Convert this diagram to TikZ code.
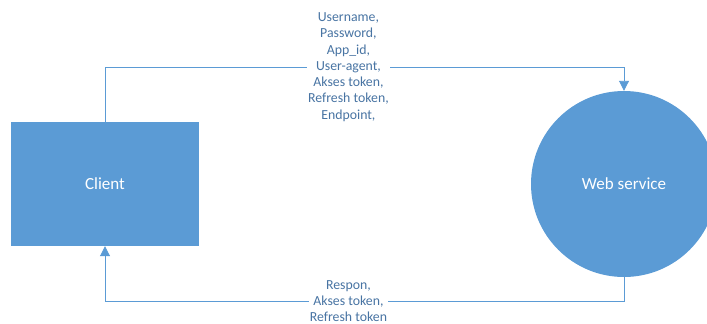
\documentclass[tikz,border=0pt]{standalone}
\usepackage{fontspec}
\setmainfont{Carlito}
\usetikzlibrary{arrows.meta,positioning}
\definecolor{boxblue}{RGB}{91,155,213}
\definecolor{msgtext}{RGB}{72,116,163}

\begin{document}
\begin{tikzpicture}[x=1pt,y=-1pt,>={Triangle[length=10pt,width=10pt]},
  entity/.style={fill=boxblue,draw=none,text=white,font=\fontsize{17}{20}\selectfont},
  flow/.style={->,draw=boxblue,line width=0.9pt},
  msg/.style={fill=white,text=msgtext,align=center,inner sep=1pt,
    font=\fontsize{13.8}{16.3}\selectfont}]
  \useasboundingbox (0,0) rectangle (707,324);
  \node[entity,minimum width=188pt,minimum height=124pt] (client) at (105,184) {Client};
  \node[entity,circle,minimum size=186pt] (web) at (624,184) {Web service};
  \coordinate (reqa) at (105,67);
  \coordinate (reqb) at (624,67);
  \coordinate (resa) at (624,301);
  \coordinate (resb) at (105,301);
  \draw[flow] (client.north) -- (reqa) -- node[msg,pos=0.469] {Username,\\
  Password,\\
  App\_id,\\
  User-agent,\\
  Akses token,\\
  Refresh token,\\
  Endpoint,} (reqb) -- (web.north);
  \draw[flow] (web.south) -- (resa) -- node[msg,pos=0.531] {Respon,\\
  Akses token,\\
  Refresh token} (resb) -- (client.south);
\end{tikzpicture}
\end{document}
